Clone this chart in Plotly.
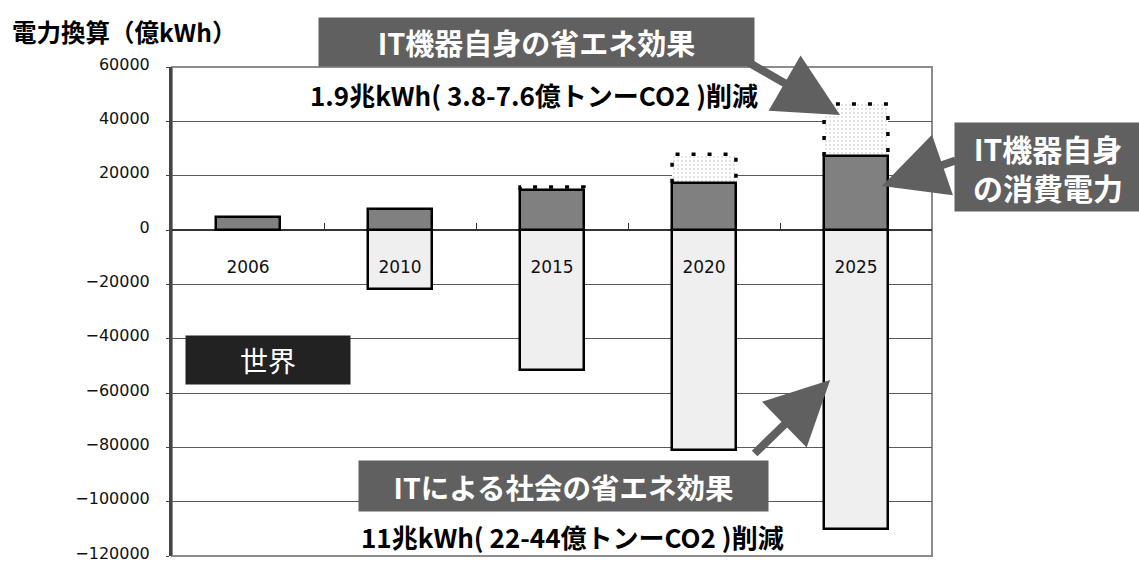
import plotly.graph_objects as go

# ---------------- data ----------------
years = ["2006", "2010", "2015", "2020", "2025"]
own_consumption = [4900, 7800, 14700, 17400, 27200]          # IT機器自身の消費電力
consumption_without_saving = [None, None, 15800, 27900, 46400]  # 省エネ前の消費電力
society_saving = [0, -21700, -51500, -81000, -110000]        # ITによる社会の省エネ効果
y_ticks = [60000, 40000, 20000, 0, -20000, -40000, -60000, -80000, -100000, -120000]

BAR_W = 0.42
x_pos = list(range(len(years)))
JP = "Noto Sans CJK JP"
NUM = "DejaVu Sans"

fig = go.Figure()

# society saving (negative)
fig.add_trace(go.Bar(
    x=x_pos, y=society_saving, base=0, width=BAR_W,
    marker=dict(color="#efefef", line=dict(color="black", width=2.5)),
    showlegend=False, hoverinfo="skip"))

# IT equipment own saving (dotted box on top)
sv_x, sv_base, sv_h = [], [], []
for i, (c, b) in enumerate(zip(own_consumption, consumption_without_saving)):
    if b is not None:
        sv_x.append(i)
        sv_base.append(c)
        sv_h.append(b - c)
fig.add_trace(go.Bar(
    x=sv_x, y=sv_h, base=sv_base, width=BAR_W,
    marker=dict(color="white", line=dict(width=0),
                pattern=dict(shape=".", fgcolor="#b4b4b4", bgcolor="white", size=4, solidity=0.2)),
    showlegend=False, hoverinfo="skip"))

# IT equipment own consumption (dark)
fig.add_trace(go.Bar(
    x=x_pos, y=own_consumption, base=0, width=BAR_W,
    marker=dict(color="#808080", line=dict(color="black", width=2.5)),
    showlegend=False, hoverinfo="skip"))

# dashed outline of the dotted boxes
ox, oy = [], []
for i, c, h in zip(sv_x, sv_base, sv_h):
    l, r = i - BAR_W / 2, i + BAR_W / 2
    ox += [l, l, r, r, None]
    oy += [c, c + h, c + h, c, None]
fig.add_trace(go.Scatter(
    x=ox, y=oy, mode="lines",
    line=dict(color="black", width=3.5, dash="4px,12px"),
    showlegend=False, hoverinfo="skip"))

fig.update_layout(
    width=1139, height=563,
    margin=dict(l=172, r=207, t=67, b=7),
    plot_bgcolor="white", paper_bgcolor="white",
    barmode="overlay", bargap=0,
    font=dict(family=NUM, size=15, color="black"),
)

ymin, ymax = -120000, 60000
fig.update_yaxes(
    range=[ymin, ymax], tickvals=y_ticks, tickformat="d",
    automargin=False,
    showgrid=True, gridcolor="#5a5a5a", gridwidth=1,
    zeroline=True, zerolinecolor="#333333", zerolinewidth=2,
    showline=True, linecolor="#444444", linewidth=3,
    ticks="outside", ticklen=3, tickcolor="#444444",
    ticklabelstandoff=13, ticklabeloverflow="allow", ticklabelshift=-3,
    tickfont=dict(family=NUM, size=16, color="#111111"),
)
fig.update_xaxes(
    range=[-0.5, len(years) - 0.5],
    tickmode="array", tickvals=x_pos, ticktext=years,
    automargin=False,
    anchor="free", position=(0 - ymin) / (ymax - ymin),
    showline=False, showgrid=False, zeroline=False, ticks="",
    ticklabelstandoff=25,
    tickfont=dict(family=NUM, size=17, color="#111111"),
    minor=dict(tickmode="array", tickvals=[i + 0.5 for i in x_pos[:-1]],
               ticks="inside", ticklen=7, tickcolor="#333333", showgrid=False),
)

# plot frame
fig.add_shape(type="rect", xref="paper", yref="paper", x0=0, x1=1, y0=0, y1=1,
              line=dict(color="#8c8c8c", width=2), layer="below")

BOX = "#606060"
ann = []
# title
ann.append(dict(text="<b>電力換算（億kWh）</b>", xref="paper", yref="paper",
                x=-0.213, y=1.072, xanchor="left", yanchor="middle", showarrow=False,
                font=dict(family=JP, size=24.5, color="black")))
# IT equipment saving box
ann.append(dict(text="<b>IT機器自身の省エネ効果</b>", xref="paper", yref="paper",
                x=0.480, y=1.051, xanchor="center", yanchor="middle", showarrow=False,
                bgcolor=BOX, width=427, height=40, borderpad=4,
                font=dict(family=JP, size=29, color="white")))
ann.append(dict(text="<b>1.9兆kWh( 3.8-7.6億トンーCO2 )削減</b>", xref="paper", yref="paper",
                x=0.476, y=0.943, xanchor="center", yanchor="middle", showarrow=False,
                font=dict(family=JP, size=26, color="black")))
# own consumption box
ann.append(dict(text="<b>IT機器自身<br>の消費電力</b>", xref="paper", yref="paper",
                x=1.152, y=0.7965, xanchor="center", yanchor="middle", showarrow=False,
                bgcolor=BOX, width=178, height=80, borderpad=4, align="center",
                font=dict(family=JP, size=30, color="white")))
# world box
ann.append(dict(text="世界", xref="paper", yref="paper",
                x=0.126, y=0.4008, xanchor="center", yanchor="middle", showarrow=False,
                bgcolor="#222222", width=156, height=40, borderpad=4,
                font=dict(family=JP, size=28, color="white")))
# society saving box
ann.append(dict(text="<b>ITによる社会の省エネ効果</b>", xref="paper", yref="paper",
                x=0.515, y=0.143, xanchor="center", yanchor="middle", showarrow=False,
                bgcolor=BOX, width=401, height=42, borderpad=4,
                font=dict(family=JP, size=28.5, color="white")))
ann.append(dict(text="<b>11兆kWh( 22-44億トンーCO2 )削減</b>", xref="paper", yref="paper",
                x=0.5276, y=0.0389, xanchor="center", yanchor="middle", showarrow=False,
                font=dict(family=JP, size=26, color="black")))

# arrows
arrow_style = dict(text="", showarrow=True, arrowhead=2, arrowsize=1.6, arrowwidth=8,
                   arrowcolor=BOX, axref="pixel", ayref="pixel", standoff=0)
ann.append(dict(x=3.895, y=42300, xref="x", yref="y", ax=-92, ay=-53, **arrow_style))
ann.append(dict(x=4.171, y=16200, xref="x", yref="y", ax=75, ay=-26, **arrow_style))
ann.append(dict(x=3.83, y=-55200, xref="x", yref="y", ax=-77, ay=75, **arrow_style))

fig.update_layout(annotations=ann)

# remove the default page margin so the 1139x563 figure fills the window exactly
page_fix = ("document.documentElement.style.margin='0';"
            "document.body.style.margin='0';"
            "document.documentElement.style.overflow='hidden';"
            "document.body.style.overflow='hidden';")
fig.write_html("out.html", post_script=page_fix, config={"displayModeBar": False})
